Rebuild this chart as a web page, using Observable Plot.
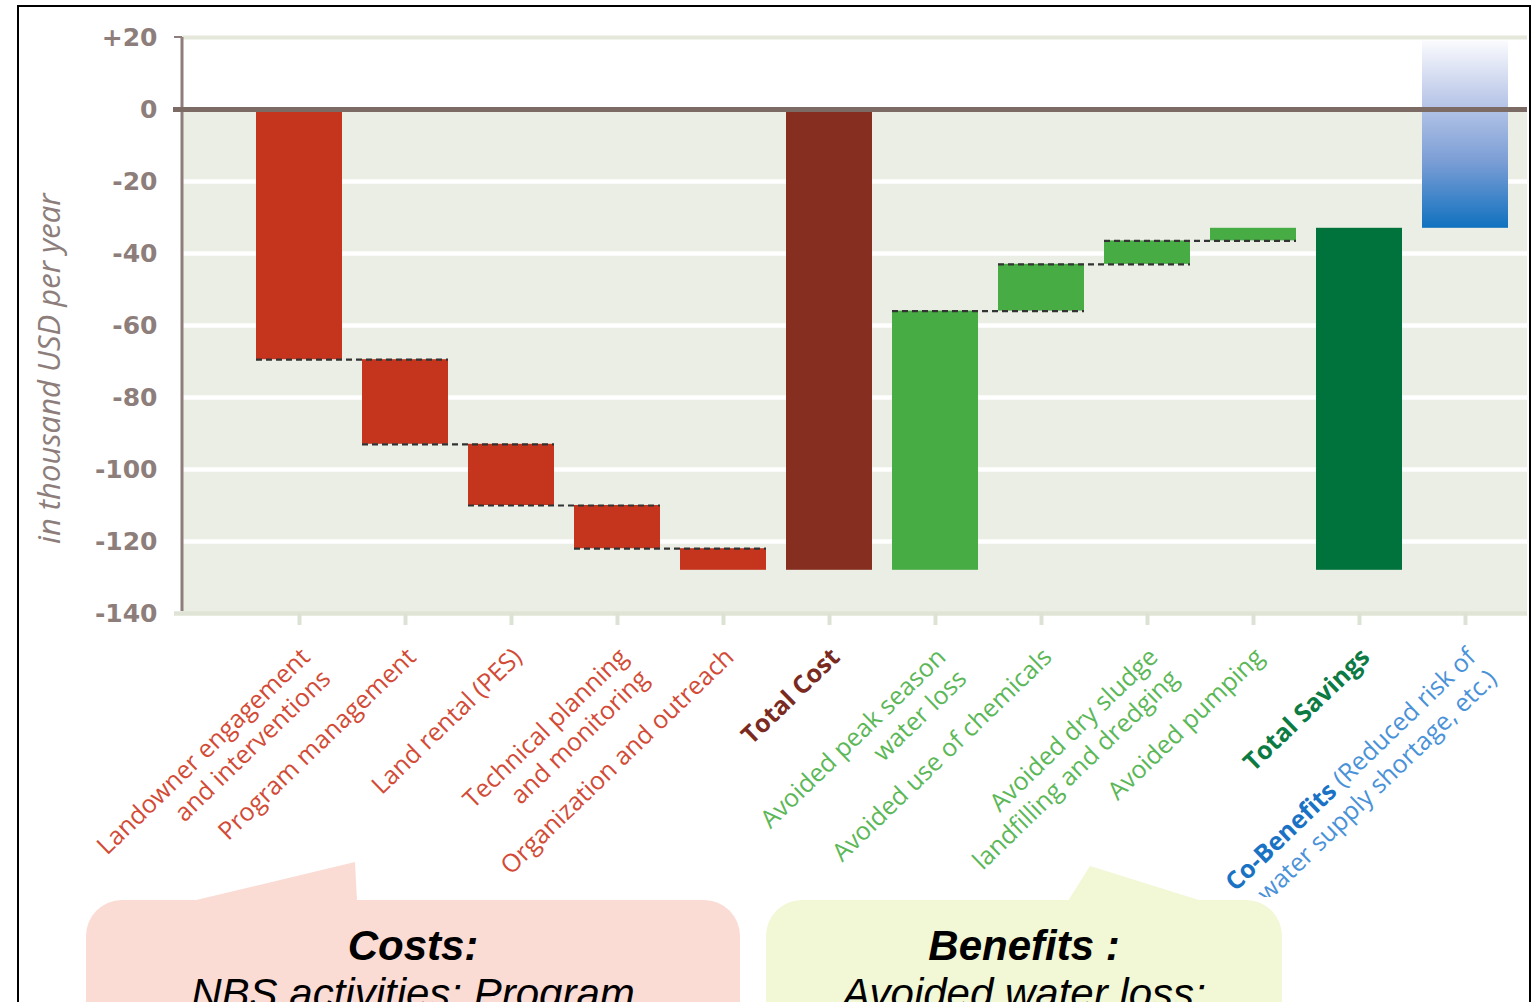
<!DOCTYPE html>
<html>
<head>
<meta charset="utf-8">
<script src="https://cdn.jsdelivr.net/npm/d3@7"></script>
<script src="https://cdn.jsdelivr.net/npm/@observablehq/plot@0.6"></script>
<style>
  html, body { margin: 0; padding: 0; background: #fff; overflow: hidden; }
  #page { position: relative; width: 1537px; height: 1002px; overflow: hidden; }
  #border { position: absolute; left: 17px; top: 5px; width: 1514px; height: 1100px;
            border: 2px solid #000; box-sizing: border-box; }
  #chart { position: absolute; left: 0; top: 0; width: 1537px; }
  #chart svg { overflow: hidden; }
  .callout { position: absolute; top: 900px; height: 200px; border-radius: 36px;
             text-align: center; font-family: "Liberation Sans", Arial, sans-serif;
             font-style: italic; font-size: 42px; line-height: 48px; color: #000; }
  .callout .head { font-weight: bold; padding-top: 22px; }
  #pointers { position: absolute; left: 0; top: 0; }
</style>
</head>
<body>
<div id="page">
  <div id="border"></div>
  <div id="chart"></div>
  <svg id="pointers" width="1537" height="1002">
    <polygon points="192,901 355,862 357,901" fill="#fadcd5"/>
    <polygon points="1068,901 1090,866 1202,901" fill="#f2f7d5"/>
  </svg>
  <div class="callout" style="left:86px; width:654px; background:#fadcd5;">
    <div class="head">Costs:</div>
    <div>NBS activities: Program</div>
  </div>
  <div class="callout" style="left:766px; width:516px; background:#f2f7d5;">
    <div class="head">Benefits :</div>
    <div>Avoided water loss;</div>
  </div>
</div>
<script>
// Cost items (thousand USD per year), each one pushes the running total down
const costLabels = [
  "Landowner engagement\nand interventions",
  "Program management",
  "Land rental (PES)",
  "Technical planning\nand monitoring",
  "Organization and outreach"
];
const costValues = [69.5, 23.5, 17, 12, 6];
const totalCostLabel = "Total Cost";

// Savings items, each one lifts the running total back up
const benefitLabels = [
  "Avoided peak season\nwater loss",
  "Avoided use of chemicals",
  "Avoided dry sludge\nlandfilling and dredging",
  "Avoided pumping"
];
const benefitValues = [72, 13, 6.5, 3.5];
const totalSavingsLabel = "Total Savings";

// Open-ended co-benefits bar, from the net position up toward the top of the axis
const coBenefitLabel = "Co-Benefits (Reduced risk of\nflooding, water supply shortage, etc.)";
const coBenefitTop = 19;

const yTicks = [20, 0, -20, -40, -60, -80, -100, -120, -140];
const yGrid = [-20, -40, -60, -80, -100, -120];
const yTitle = "in thousand USD per year";

// Waterfall geometry built from the values above
const bars = [];
let level = 0;
costLabels.forEach((cat, i) => {
  const next = level - costValues[i];
  bars.push({cat, y1: level, y2: next, kind: "cost"});
  level = next;
});
const totalCost = level;
bars.push({cat: totalCostLabel, y1: 0, y2: totalCost, kind: "totalCost"});
benefitLabels.forEach((cat, i) => {
  const next = level + benefitValues[i];
  bars.push({cat, y1: level, y2: next, kind: "benefit"});
  level = next;
});
bars.push({cat: totalSavingsLabel, y1: totalCost, y2: level, kind: "totalSavings"});
const coBar = [{cat: coBenefitLabel, y1: level, y2: coBenefitTop}];

// Dashed connectors between consecutive steps
const connectors = [];
for (let i = 0; i < costLabels.length - 1; i++) {
  connectors.push({from: costLabels[i], to: costLabels[i + 1], y: bars[i].y2});
}
const firstBenefit = costLabels.length + 1;
for (let i = 0; i < benefitLabels.length - 1; i++) {
  const b = bars[firstBenefit + i];
  connectors.push({from: benefitLabels[i], to: benefitLabels[i + 1], y: b.y2});
}

const domain = [...costLabels, totalCostLabel, ...benefitLabels, totalSavingsLabel, coBenefitLabel];

const barFill = {cost: "#c5351e", totalCost: "#862e1f", benefit: "#48ac44", totalSavings: "#00723b"};
const labelFill = {cost: "#d24b36", totalCost: "#7a2a1e", benefit: "#5bb757", totalSavings: "#0b7a43"};

const regularLabels = [
  ...costLabels.map(cat => ({cat, kind: "cost"})),
  ...benefitLabels.map(cat => ({cat, kind: "benefit"}))
];
const boldLabels = [
  {cat: totalCostLabel, kind: "totalCost"},
  {cat: totalSavingsLabel, kind: "totalSavings"}
];

const W = 1537, H = 897;
const axisColor = "#8d7e7b";
const labelFont = "'Open Sans', 'DejaVu Sans', sans-serif";
const labelOpts = {
  x: "cat", text: "cat", frameAnchor: "bottom", rotate: -44,
  textAnchor: "end", lineAnchor: "top", dx: -3, dy: 30,
  fontSize: 25, lineHeight: 1.2, fontFamily: labelFont
};

// Left axis line, small top tick and the gradient used by the co-benefits bar
const decorations = (index, scales, values, dims) => {
  const g = d3.create("svg:g");
  const defs = g.append("defs");
  const lg = defs.append("linearGradient").attr("id", "coGrad")
    .attr("x1", 0).attr("x2", 0).attr("y1", 0).attr("y2", 1);
  [[0, "#fbfbfe"], [0.3, "#bfcbea"], [0.65, "#7a9dd5"], [1, "#1071bf"]].forEach(([o, c]) =>
    lg.append("stop").attr("offset", o).attr("stop-color", c));
  g.append("line")
    .attr("x1", dims.marginLeft).attr("x2", dims.marginLeft)
    .attr("y1", scales.y(yTicks[0])).attr("y2", scales.y(yTicks[yTicks.length - 1]) - 2)
    .attr("stroke", axisColor).attr("stroke-width", 3);
  g.append("line")
    .attr("x1", dims.marginLeft - 8).attr("x2", dims.marginLeft)
    .attr("y1", scales.y(yTicks[0])).attr("y2", scales.y(yTicks[0]))
    .attr("stroke", axisColor).attr("stroke-width", 2);
  return g.node();
};

const chart = Plot.plot({
  width: W,
  height: H,
  marginLeft: 182,
  marginRight: 10,
  marginTop: 37,
  marginBottom: H - 613,
  style: {background: "transparent", overflow: "hidden", fontFamily: labelFont},
  x: {domain, range: [234, 1530], paddingInner: 0.19, paddingOuter: 0.2, axis: null},
  y: {domain: [-140, 20], axis: null},
  color: {type: "identity"},
  marks: [
    // shaded band below zero
    Plot.rectY([0], {y1: -140, y2: 0, fill: "#ebeee4"}),
    Plot.ruleY(yGrid, {stroke: "#ffffff", strokeWidth: 4.5}),
    Plot.ruleY([yTicks[0]], {stroke: "#e3e8da", strokeWidth: 4}),
    Plot.ruleY([yTicks[yTicks.length - 1]], {stroke: "#dfe4d6", strokeWidth: 4.5, insetLeft: -8}),
    Plot.axisX({tickSize: 12, tickPadding: 0, tickFormat: () => "", stroke: "#dde3d4", strokeWidth: 4, label: null}),
    decorations,
    // waterfall bars
    Plot.rectY(bars, {x: "cat", y1: "y1", y2: "y2", fill: d => barFill[d.kind]}),
    Plot.rectY(coBar, {x: "cat", y1: "y1", y2: "y2", fill: "url(#coGrad)"}),
    Plot.ruleY(connectors, {y: "y", x1: "from", x2: "to", stroke: "#333333", strokeWidth: 2.2, strokeDasharray: "6,4"}),
    Plot.ruleY([0], {stroke: "#7c6a65", strokeWidth: 5, insetLeft: -9}),
    // y tick labels
    Plot.text(yTicks, {
      y: d => d, text: d => (d > 0 ? "+" + d : String(d)),
      frameAnchor: "left", textAnchor: "end", dx: -25,
      fill: axisColor, fontSize: 25, fontWeight: "bold", fontFamily: "'DejaVu Sans', sans-serif"
    }),
    // y title
    Plot.text([yTitle], {
      y: [-72], text: d => d, frameAnchor: "left", textAnchor: "middle", rotate: -90,
      dx: -132, fill: axisColor, fontSize: 31, fontStyle: "italic", fontFamily: labelFont
    }),
    // category labels
    Plot.text(regularLabels, {...labelOpts, fill: d => labelFill[d.kind]}),
    Plot.text(boldLabels, {...labelOpts, fill: d => labelFill[d.kind], fontWeight: "bold"}),
    Plot.text([{cat: coBenefitLabel}], {...labelOpts, fill: "#4a92d8", className: "cobenefit-label"})
  ]
});

// first line of the co-benefits label: bold "Co-Benefits" followed by the lighter note
const firstLine = d3.select(chart).select(".cobenefit-label text tspan");
if (!firstLine.empty()) {
  const full = firstLine.text();
  const head = "Co-Benefits";
  firstLine.text("");
  firstLine.append("tspan").attr("font-weight", "bold").attr("fill", "#1a72c4").text(head);
  firstLine.append("tspan").text(full.slice(head.length));
}

document.getElementById("chart").appendChild(chart);
</script>
</body>
</html>
